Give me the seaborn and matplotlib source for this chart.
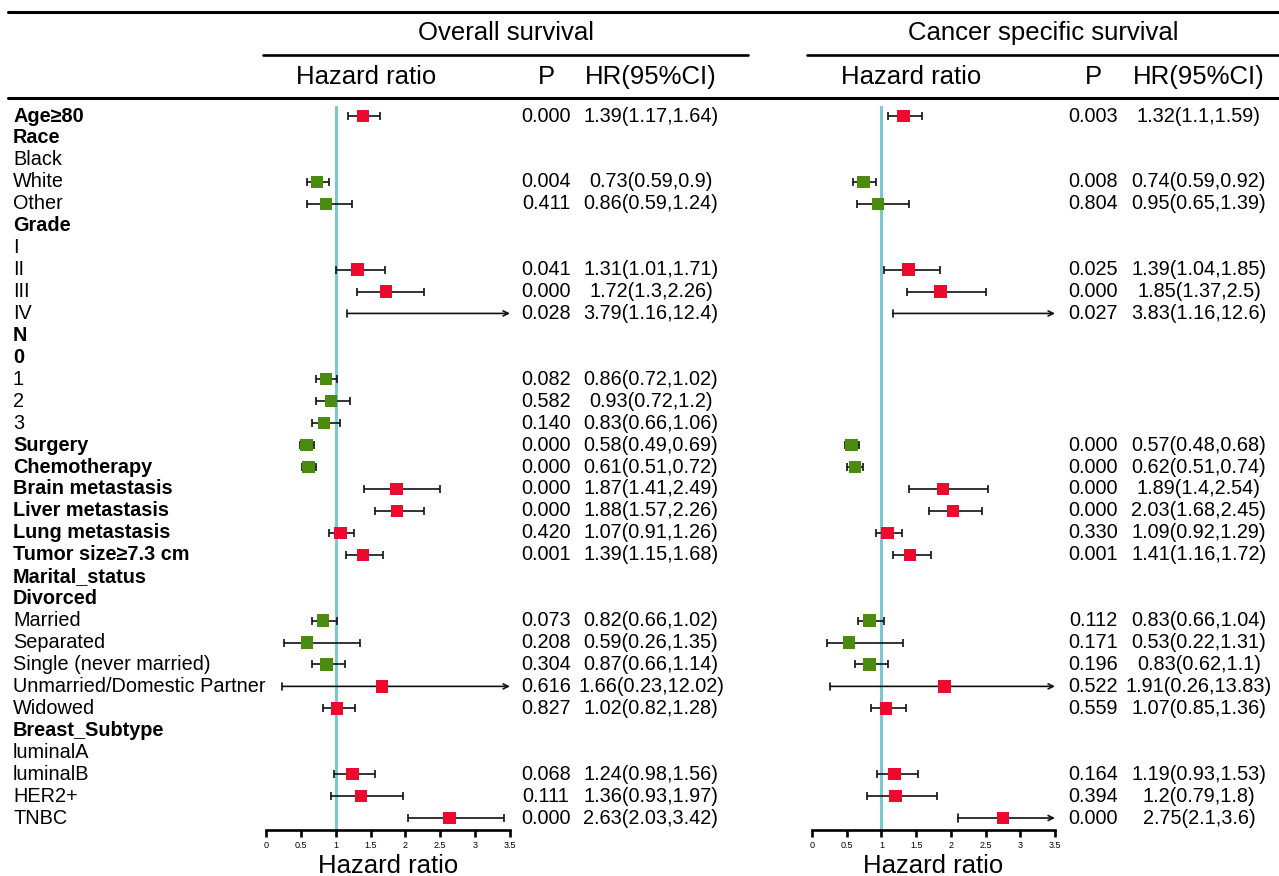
import numpy as np
import pandas as pd
import seaborn as sns
import matplotlib
matplotlib.use("Agg")
import matplotlib.pyplot as plt
import matplotlib.transforms as mtransforms
from matplotlib.lines import Line2D

# --- data ---
labels = ['Age≥80', 'Race', 'Black', 'White', 'Other', 'Grade', 'I', 'II', 'III', 'IV',
          'N', '0', '1', '2', '3', 'Surgery', 'Chemotherapy', 'Brain metastasis',
          'Liver metastasis', 'Lung metastasis', 'Tumor size≥7.3 cm', 'Marital_status',
          'Divorced', 'Married', 'Separated', 'Single (never married)',
          'Unmarried/Domestic Partner', 'Widowed', 'Breast_Subtype', 'luminalA',
          'luminalB', 'HER2+', 'TNBC']
bold_labels = ['Age≥80', 'Race', 'Grade', 'N', '0', 'Surgery', 'Chemotherapy',
               'Brain metastasis', 'Liver metastasis', 'Lung metastasis',
               'Tumor size≥7.3 cm', 'Marital_status', 'Divorced', 'Breast_Subtype']

na = np.nan
# Overall survival
os_hr = [1.39, na, na, 0.73, 0.86, na, na, 1.31, 1.72, 3.79, na, na, 0.86, 0.93, 0.83,
         0.58, 0.61, 1.87, 1.88, 1.07, 1.39, na, na, 0.82, 0.59, 0.87, 1.66, 1.02,
         na, na, 1.24, 1.36, 2.63]
os_lo = [1.17, na, na, 0.59, 0.59, na, na, 1.01, 1.3, 1.16, na, na, 0.72, 0.72, 0.66,
         0.49, 0.51, 1.41, 1.57, 0.91, 1.15, na, na, 0.66, 0.26, 0.66, 0.23, 0.82,
         na, na, 0.98, 0.93, 2.03]
os_hi = [1.64, na, na, 0.9, 1.24, na, na, 1.71, 2.26, 12.4, na, na, 1.02, 1.2, 1.06,
         0.69, 0.72, 2.49, 2.26, 1.26, 1.68, na, na, 1.02, 1.35, 1.14, 12.02, 1.28,
         na, na, 1.56, 1.97, 3.42]
os_p = [0.000, na, na, 0.004, 0.411, na, na, 0.041, 0.000, 0.028, na, na, 0.082, 0.582,
        0.140, 0.000, 0.000, 0.000, 0.000, 0.420, 0.001, na, na, 0.073, 0.208, 0.304,
        0.616, 0.827, na, na, 0.068, 0.111, 0.000]

# Cancer specific survival
css_hr = [1.32, na, na, 0.74, 0.95, na, na, 1.39, 1.85, 3.83, na, na, na, na, na,
          0.57, 0.62, 1.89, 2.03, 1.09, 1.41, na, na, 0.83, 0.53, 0.83, 1.91, 1.07,
          na, na, 1.19, 1.2, 2.75]
css_lo = [1.1, na, na, 0.59, 0.65, na, na, 1.04, 1.37, 1.16, na, na, na, na, na,
          0.48, 0.51, 1.4, 1.68, 0.92, 1.16, na, na, 0.66, 0.22, 0.62, 0.26, 0.85,
          na, na, 0.93, 0.79, 2.1]
css_hi = [1.59, na, na, 0.92, 1.39, na, na, 1.85, 2.5, 12.6, na, na, na, na, na,
          0.68, 0.74, 2.54, 2.45, 1.29, 1.72, na, na, 1.04, 1.31, 1.1, 13.83, 1.36,
          na, na, 1.53, 1.8, 3.6]
css_p = [0.003, na, na, 0.008, 0.804, na, na, 0.025, 0.000, 0.027, na, na, na, na, na,
         0.000, 0.000, 0.000, 0.000, 0.330, 0.001, na, na, 0.112, 0.171, 0.196,
         0.522, 0.559, na, na, 0.164, 0.394, 0.000]

ticks = [0, 0.5, 1, 1.5, 2, 2.5, 3, 3.5]
XMAX = 3.5

RED = '#ee0a2e'
GREEN = '#4b8b10'
CI_COLOR = '#111111'
REF_COLOR = '#7fc7cf'

W, H = 1279, 876

sns.set_theme(style='white')
plt.rcParams['font.family'] = ['Liberation Sans', 'DejaVu Sans']
plt.rcParams['text.color'] = 'black'
plt.rcParams['axes.labelcolor'] = 'black'
plt.rcParams['xtick.color'] = 'black'


def fx(px):
    return px / W


def fy(py):
    return 1 - py / H


def make_frame(hr, lo, hi, p):
    df = pd.DataFrame({'row': np.arange(len(labels)), 'hr': hr, 'lo': lo, 'hi': hi, 'p': p})
    df['dir'] = np.where(df['hr'] > 1, 'up', 'down')
    return df


fig = plt.figure(figsize=(W / 100, H / 100), dpi=100)

# forest panels: x in HR units, y in row index
ax_bottom, ax_top = 830, 106
row0, row_step = 116, (818 - 116) / 32
ylim = ((ax_bottom - row0) / row_step, (ax_top - row0) / row_step)

panels = [
    dict(df=make_frame(os_hr, os_lo, os_hi, os_p), x0=266, x1=510, title='Overall survival',
         line=(263, 748), p_x=546, hr_x=651),
    dict(df=make_frame(css_hr, css_lo, css_hi, css_p), x0=812, x1=1055,
         title='Cancer specific survival', line=(807, 1279), p_x=1093, hr_x=1199),
]

for pan in panels:
    df = pan['df']
    ax = fig.add_axes([fx(pan['x0']), fy(ax_bottom), fx(pan['x1'] - pan['x0']),
                       (ax_bottom - ax_top) / H])
    ax.set_xlim(0, XMAX)
    ax.set_ylim(*ylim)
    ax.patch.set_alpha(0)

    ax.axvline(1, color=REF_COLOR, lw=2.2, zorder=1)

    est = df.dropna(subset=['hr'])
    inside = est[est['hi'] <= XMAX]
    outside = est[est['hi'] > XMAX]

    ax.errorbar(inside['hr'], inside['row'],
                xerr=[inside['hr'] - inside['lo'], inside['hi'] - inside['hr']],
                fmt='none', ecolor=CI_COLOR, elinewidth=1.2, capsize=2.6, capthick=1.2,
                zorder=2)
    for _, r in outside.iterrows():
        ax.annotate('', xy=(XMAX, r['row']), xytext=(r['lo'], r['row']),
                    arrowprops=dict(arrowstyle='->', lw=1.2, color=CI_COLOR,
                                    shrinkA=0, shrinkB=0, mutation_scale=9),
                    annotation_clip=False, zorder=2)
        ax.plot([r['lo'], r['lo']], [r['row'] - 0.16, r['row'] + 0.16],
                color=CI_COLOR, lw=1.2, zorder=2)

    sns.scatterplot(data=est, x='hr', y='row', hue='dir',
                    palette={'up': RED, 'down': GREEN}, marker='s', s=80,
                    linewidth=0, legend=False, ax=ax, zorder=3)

    for side in ['top', 'left', 'right']:
        ax.spines[side].set_visible(False)
    ax.spines['bottom'].set_linewidth(1.9)
    ax.spines['bottom'].set_color('black')
    ax.set_yticks([])
    ax.set_ylabel('')
    ax.set_xticks(ticks)
    ax.set_xticklabels([f'{t:g}' for t in ticks])
    ax.tick_params(axis='x', direction='out', length=5, width=1.9, color='black',
                   labelsize=6.5, pad=3, bottom=True)
    ax.set_xlabel('Hazard ratio', fontsize=18.5, labelpad=3)

    # P and HR(95%CI) columns, one line per estimated row
    trans = mtransforms.blended_transform_factory(fig.transFigure, ax.transData)
    for _, r in est.iterrows():
        ax.text(fx(pan['p_x']), r['row'], f"{r['p']:.3f}", transform=trans,
                ha='center', va='center', fontsize=14.3)
        ax.text(fx(pan['hr_x']), r['row'], f"{r['hr']:g}({r['lo']:g},{r['hi']:g})",
                transform=trans, ha='center', va='center', fontsize=14.3)

    # headers
    fig.text(fx((pan['line'][0] + pan['line'][1]) / 2), fy(33), pan['title'],
             ha='center', va='center', fontsize=18.5)
    fig.text(fx((pan['x0'] + pan['x1']) / 2 - 22), fy(77), 'Hazard ratio',
             ha='center', va='center', fontsize=18.5)
    fig.text(fx(pan['p_x']), fy(77), 'P', ha='center', va='center', fontsize=18.5)
    fig.text(fx(pan['hr_x']), fy(77), 'HR(95%CI)', ha='center', va='center', fontsize=18.5)
    fig.add_artist(Line2D([fx(pan['line'][0]), fx(pan['line'][1])], [fy(55), fy(55)],
                          color='black', lw=1.9, transform=fig.transFigure))

# row labels on the left
ax_left = fig.axes[0]
label_trans = mtransforms.blended_transform_factory(fig.transFigure, ax_left.transData)
for i, lab in enumerate(labels):
    ax_left.text(fx(13), i, lab, transform=label_trans, ha='left', va='center',
                 fontsize=14.3, fontweight='bold' if lab in bold_labels else 'normal')

# table rules
for py in (12, 98):
    fig.add_artist(Line2D([fx(8), 1], [fy(py), fy(py)], color='black', lw=2.2,
                          transform=fig.transFigure))

fig.savefig('out.png', dpi=100)
